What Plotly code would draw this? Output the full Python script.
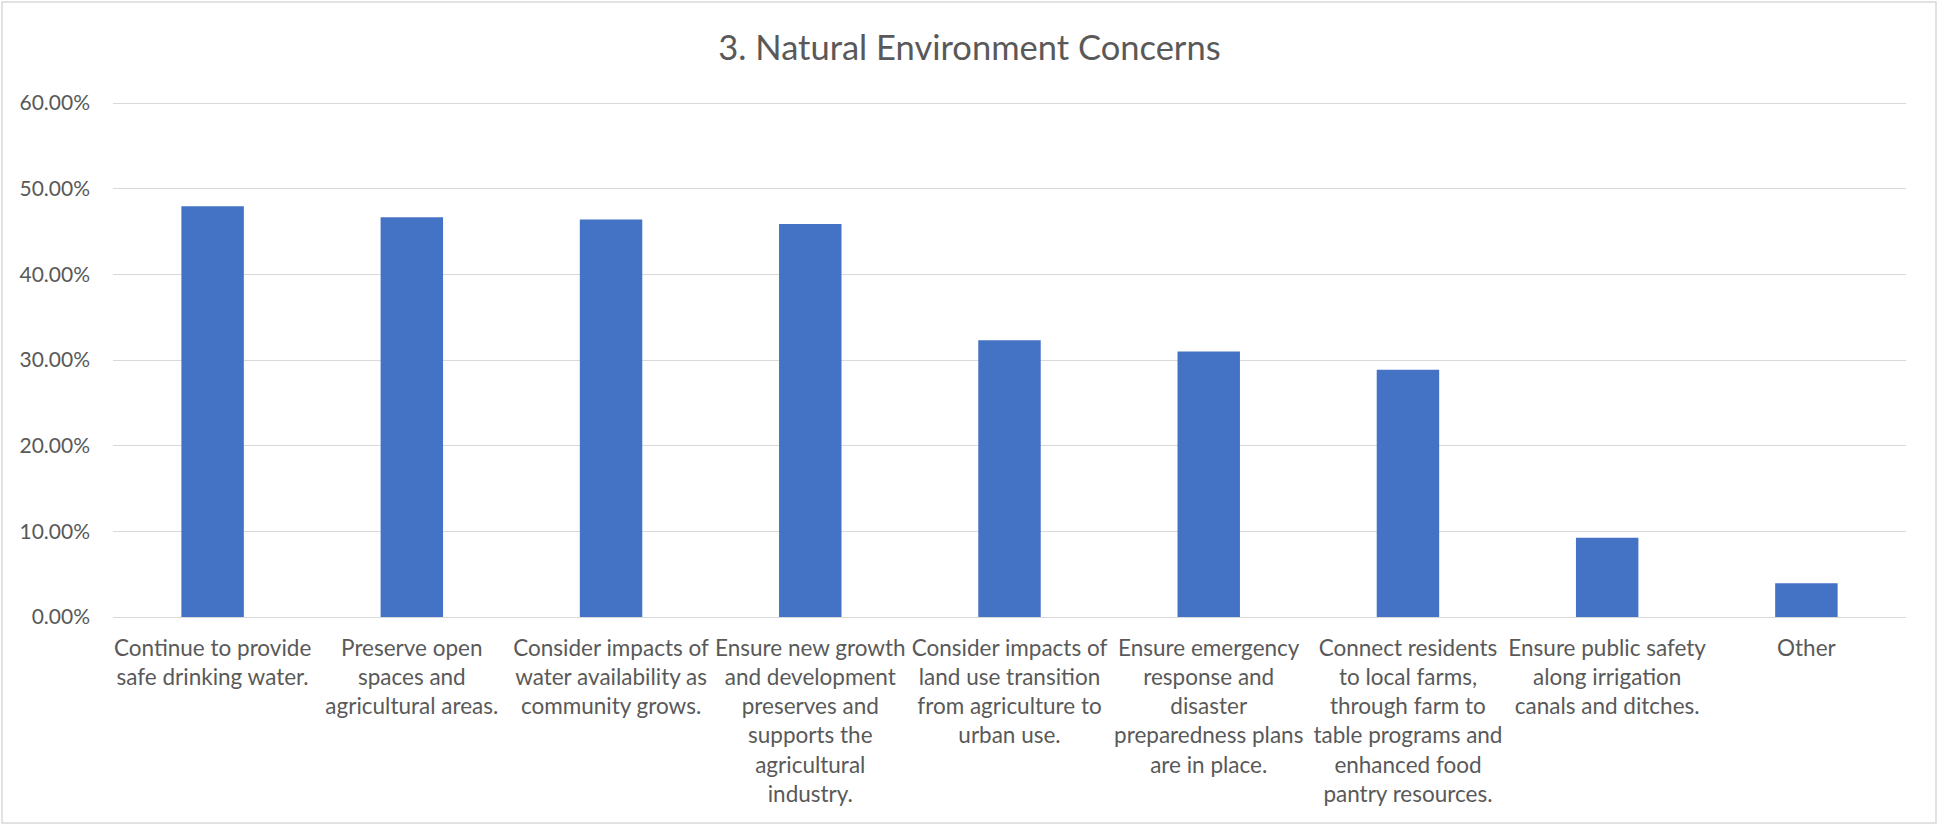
import plotly.graph_objects as go

categories = [
    "Continue to provide<br>safe drinking water.",
    "Preserve open<br>spaces and<br>agricultural areas.",
    "Consider impacts of<br>water availability as<br>community grows.",
    "Ensure new growth<br>and development<br>preserves and<br>supports the<br>agricultural<br>industry.",
    "Consider impacts of<br>land use transition<br>from agriculture to<br>urban use.",
    "Ensure emergency<br>response and<br>disaster<br>preparedness plans<br>are in place.",
    "Connect residents<br>to local farms,<br>through farm to<br>table programs and<br>enhanced food<br>pantry resources.",
    "Ensure public safety<br>along irrigation<br>canals and ditches.",
    "Other",
]
values = [0.4794, 0.4666, 0.4639, 0.4589, 0.3231, 0.3099, 0.2886, 0.0926, 0.0393]
y_ticks = [0, 0.1, 0.2, 0.3, 0.4, 0.5, 0.6]
y_tick_labels = ["0.00%", "10.00%", "20.00%", "30.00%", "40.00%", "50.00%", "60.00%"]

W, H = 1939, 826
ML, MR, MT, MB = 113, 33, 102, 209

fig = go.Figure(go.Bar(
    x=list(range(len(categories))),
    y=values,
    marker=dict(color="#4472C4", line=dict(width=0)),
    hoverinfo="y",
))

pw = W - ML - MR
ph = H - MT - MB

fig.update_layout(
    width=W, height=H,
    margin=dict(l=ML, r=MR, t=MT, b=MB, pad=0),
    paper_bgcolor="white", plot_bgcolor="white",
    bargap=0.6865,
    showlegend=False,
    font=dict(family="Lato, Carlito, Calibri, sans-serif", color="#595959", size=22),
    title=dict(
        text="3. Natural Environment Concerns",
        x=0.5, xref="container", xanchor="center",
        y=1 - 48 / H, yref="container", yanchor="middle",
        font=dict(size=34.5, color="#595959", family="Lato, Carlito, Calibri, sans-serif"),
    ),
    xaxis=dict(
        tickmode="array",
        tickvals=list(range(len(categories))),
        ticktext=categories,
        tickangle=0,
        showgrid=False,
        showline=False,
        zeroline=False,
        ticks="",
        ticklabelstandoff=15,
        tickfont=dict(size=22.5, color="#595959"),
        range=[-0.5, len(categories) - 0.5],
    ),
    yaxis=dict(
        range=[0, 0.6012],
        tickmode="array",
        tickvals=y_ticks,
        ticktext=y_tick_labels,
        showgrid=True,
        gridcolor="#D9D9D9",
        gridwidth=1.3,
        zeroline=True,
        zerolinecolor="#D9D9D9",
        zerolinewidth=1.3,
        showline=False,
        ticks="",
        ticklabelstandoff=22,
        tickfont=dict(size=21, color="#595959"),
    ),
    shapes=[dict(
        type="rect", xref="paper", yref="paper",
        x0=(2 - ML) / pw, x1=(W - 3 - ML) / pw,
        y0=-(MB - 3) / ph, y1=1 + (MT - 2) / ph,
        line=dict(color="#D9D9D9", width=1.5),
        fillcolor="rgba(0,0,0,0)", layer="below",
    )],
)

fig.write_html(
    "out.html",
    config={"displayModeBar": False},
    post_script="document.body.style.margin='0';document.body.style.overflow='hidden';",
)
